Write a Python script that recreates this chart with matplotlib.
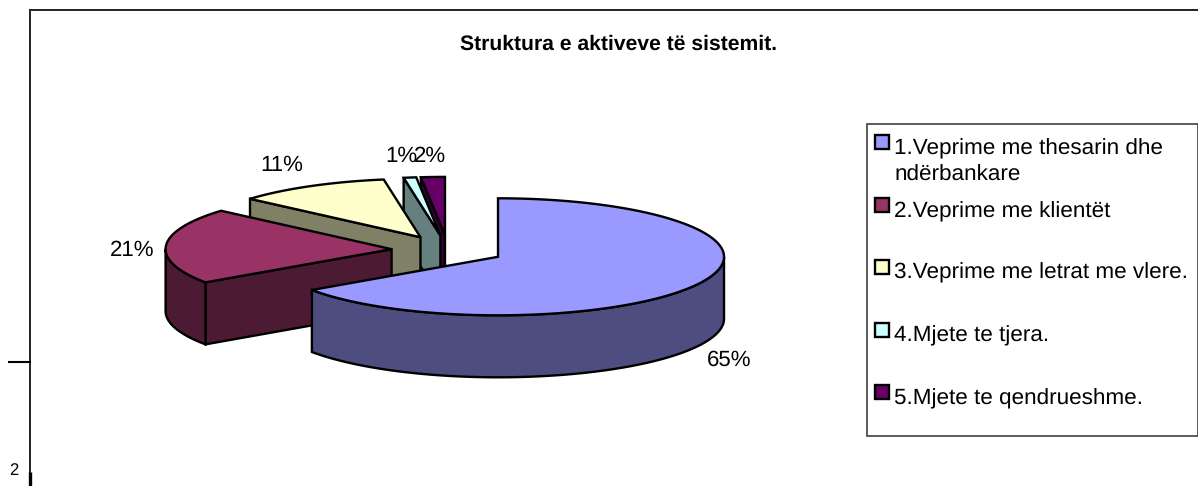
import numpy as np
import matplotlib
matplotlib.use('Agg')
import matplotlib.pyplot as plt
from matplotlib.patches import Rectangle

plt.rcParams['font.family'] = ['Liberation Sans', 'DejaVu Sans']
plt.rcParams['text.hinting'] = 'none'

title = 'Struktura e aktiveve të sistemit.'
categories = ['1.Veprime me thesarin dhe\nndërbankare', '2.Veprime me klientët',
              '3.Veprime me letrat me vlere.', '4.Mjete te tjera.', '5.Mjete te qendrueshme.']
values = [65.4, 21.0, 11.0, 0.9, 1.7]
top_colors = ['#9999FF', '#993366', '#FFFFCC', '#CCFFFF', '#660066']
side_colors = ['#4D4D80', '#4D1A33', '#808066', '#668080', '#330033']

# Pie geometry in pixels
CX, CY = 448, 250
RX, RY = 226, 58.5
DEPTH = 62
EXPLODE = 0.25
LW = 1.7

fig = plt.figure(figsize=(11.98, 4.86), dpi=100)
ax = fig.add_axes([0, 0, 1, 1])
ax.set_xlim(0, 1198)
ax.set_ylim(486, 0)
ax.axis('off')


def rim(a0, a1, ox, oy):
    # angles in degrees, clockwise from 12 o'clock
    t = np.radians(np.linspace(a0, a1, max(int(abs(a1 - a0) * 2), 2)))
    return ox + RX * np.sin(t), oy - RY * np.cos(t)


def poly(xs, ys, color):
    ax.fill(xs, ys, facecolor=color, edgecolor='black', linewidth=LW, joinstyle='miter')


ends = np.cumsum(values) / np.sum(values) * 360
starts = np.concatenate([[0], ends[:-1]])

# Slices are painted from the back one to the front one
for i in [4, 3, 2, 1, 0]:
    a0, a1 = starts[i], ends[i]
    mid = np.radians((a0 + a1) / 2)
    ox = CX + EXPLODE * RX * np.sin(mid)
    oy = CY - EXPLODE * RY * np.cos(mid)

    # cut faces that look towards the viewer
    if 180 < a0 < 360:
        x, y = rim(a0, a0, ox, oy)
        poly([x[0], ox, ox, x[0]], [y[0], oy, oy + DEPTH, y[0] + DEPTH], side_colors[i])
    if 0 < a1 < 180:
        x, y = rim(a1, a1, ox, oy)
        poly([x[0], ox, ox, x[0]], [y[0], oy, oy + DEPTH, y[0] + DEPTH], side_colors[i])

    # outer wall, only the front half of the ellipse shows
    w0, w1 = max(a0, 90), min(a1, 270)
    if w1 > w0:
        x, y = rim(w0, w1, ox, oy)
        poly(np.r_[x, x[::-1]], np.r_[y, y[::-1] + DEPTH], side_colors[i])

    # top face
    x, y = rim(a0, a1, ox, oy)
    poly(np.r_[ox, x], np.r_[oy, y], top_colors[i])

# Percent labels
label_xy = [(729, 360), (132, 250), (282, 165), (401, 156), (430, 156)]
for v, (lx, ly) in zip(values, label_xy):
    ax.text(lx, ly, '%.0f%%' % v, ha='center', va='center', fontsize=16, color='black')

ax.text(619, 44, title, ha='center', va='center', fontsize=15.2, fontweight='bold')

# Legend box
ax.add_patch(Rectangle((867, 124), 331, 312, facecolor='white', edgecolor='#404040', linewidth=1.2))
legend_sw_y = [142, 205, 267, 330, 392]
legend_base_y = [181, 217, 278, 341, 404]
for name, color, sy, ty in zip(categories, top_colors, legend_sw_y, legend_base_y):
    ax.add_patch(Rectangle((875, sy - 7), 14, 14, facecolor=color, edgecolor='black', linewidth=LW))
    ax.text(894, ty, name, ha='left', va='baseline', fontsize=16.2, color='black', linespacing=1.4)

# Chart frame and the stray marks around it
ax.plot([30, 30, 1198], [486, 10, 10], color='#222222', linewidth=1.4, solid_joinstyle='miter')
ax.plot([9, 30], [362, 362], color='black', linewidth=1.5)
ax.plot([29.5, 29.5], [472, 486], color='black', linewidth=2.4, solid_capstyle='butt')
ax.text(14, 471, '2', ha='center', va='center', fontsize=12)

fig.savefig('out.png', dpi=100)
